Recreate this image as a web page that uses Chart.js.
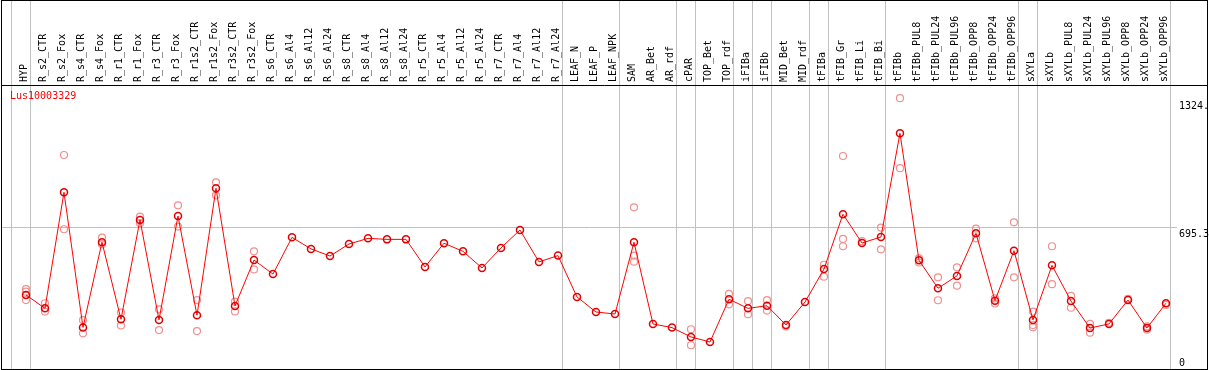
<!DOCTYPE html>
<html>
<head>
<meta charset="utf-8">
<script src="https://cdn.jsdelivr.net/npm/chart.js@4/dist/chart.umd.min.js"></script>
<style>
  body { margin: 0; background: #fff; }
</style>
</head>
<body>
<canvas id="geneChart" width="1209" height="370"></canvas>
<script>
const geneName = 'Lus10003329';

const categories = [
  'HYP', 'R_s2_CTR', 'R_s2_Fox', 'R_s4_CTR', 'R_s4_Fox', 'R_r1_CTR', 'R_r1_Fox',
  'R_r3_CTR', 'R_r3_Fox', 'R_r1s2_CTR', 'R_r1s2_Fox', 'R_r3s2_CTR', 'R_r3s2_Fox',
  'R_s6_CTR', 'R_s6_Al4', 'R_s6_Al12', 'R_s6_Al24', 'R_s8_CTR', 'R_s8_Al4',
  'R_s8_Al12', 'R_s8_Al24', 'R_r5_CTR', 'R_r5_Al4', 'R_r5_Al12', 'R_r5_Al24',
  'R_r7_CTR', 'R_r7_Al4', 'R_r7_Al12', 'R_r7_Al24', 'LEAF_N', 'LEAF_P', 'LEAF_NPK',
  'SAM', 'AR_Bet', 'AR_rdf', 'cPAR', 'TOP_Bet', 'TOP_rdf', 'iFIBa', 'iFIBb',
  'MID_Bet', 'MID_rdf', 'tFIBa', 'tFIB_Gr', 'tFIB_Li', 'tFIB_Bi', 'tFIBb',
  'tFIBb_PUL8', 'tFIBb_PUL24', 'tFIBb_PUL96', 'tFIBb_OPP8', 'tFIBb_OPP24', 'tFIBb_OPP96',
  'sXYLa', 'sXYLb', 'sXYLb_PUL8', 'sXYLb_PUL24', 'sXYLb_PUL96', 'sXYLb_OPP8',
  'sXYLb_OPP24', 'sXYLb_OPP96'
];

// mean expression per sample
const meanValues = [
  365, 299, 871, 205, 625, 245, 735, 242, 754, 265, 891, 311, 537,
  468, 649, 592, 557, 616, 644, 639, 639, 503, 620, 580, 498,
  597, 685, 528, 559, 355, 281, 271,
  625, 222, 204, 158, 133, 344, 299, 312,
  217, 330, 493, 763, 621, 651, 1162,
  536, 398, 459, 669, 337, 583,
  242, 511, 335, 202, 222, 340, 202, 324
];

// individual replicates (only those visible apart from the mean)
const replicateValues = [
  [394, 381, 340], [324, 283], [1055, 689], [241, 176], [648, 615], [278, 215], [751, 718],
  [294, 192], [807, 702], [340, 187], [920, 856], [332, 284], [580, 491],
  [], [], [], [], [], [], [], [], [], [], [], [],
  [], [], [], [], [], [], [],
  [797, 559, 529], [], [], [196, 117], [], [370, 319], [335, 270], [340, 288],
  [210], [], [514, 455], [1050, 641, 605], [630], [697, 590], [1335, 990],
  [545, 525], [452, 339], [501, 411], [692, 644], [348, 323], [723, 452],
  [283, 217, 206], [605, 418], [360, 302], [222, 179], [228], [346], [210, 194], [316]
];

// sample index after which a group separator is drawn
const groupBreaks = [-1, 0, 28, 31, 34, 35, 37, 38, 39, 41, 42, 45, 52, 53, 60];

const yTicks = [0, 695.3, 1324];
const yTickLabels = ['0', '695.3', '1324.'];

const monoFont = { family: "'DejaVu Sans Mono', monospace", size: 10 };

function noPadding(scale) {
  scale.paddingLeft = 0;
  scale.paddingRight = 0;
  scale.paddingTop = 0;
  scale.paddingBottom = 0;
}

const framePlugin = {
  id: 'frame',
  beforeDatasetsDraw(chart) {
    const { ctx, chartArea, scales } = chart;
    const xs = scales.x;
    ctx.save();
    ctx.strokeStyle = '#c0c0c0';
    ctx.lineWidth = 1;
    groupBreaks.forEach((i) => {
      const px = Math.round(xs.getPixelForValue(i + 0.23)) + 0.5;
      ctx.beginPath();
      ctx.moveTo(px, 0);
      ctx.lineTo(px, chartArea.bottom);
      ctx.stroke();
    });
    ctx.restore();
  },
  afterDraw(chart) {
    const { ctx, chartArea } = chart;
    ctx.save();
    ctx.strokeStyle = '#000';
    ctx.lineWidth = 1;
    ctx.strokeRect(1.5, 0.5, 1206, 369);
    ctx.beginPath();
    ctx.moveTo(1.5, Math.round(chartArea.top) + 0.5);
    ctx.lineTo(1207.5, Math.round(chartArea.top) + 0.5);
    ctx.stroke();
    ctx.fillStyle = '#ff0000';
    ctx.font = "10px 'DejaVu Sans Mono', monospace";
    ctx.textBaseline = 'top';
    ctx.fillText(geneName, chartArea.left + 8, chartArea.top + 6);
    ctx.restore();
  }
};

const ctx = document.getElementById('geneChart').getContext('2d');

const geneChart = new Chart(ctx, {
  type: 'line',
  data: {
    datasets: [
      {
        label: 'mean',
        order: 0,
        data: meanValues.map((v, i) => ({ x: i, y: v })),
        borderColor: '#ff0000',
        borderWidth: 1,
        tension: 0,
        pointRadius: 3.5,
        pointBorderWidth: 1.5,
        pointBorderColor: '#e00000',
        pointBackgroundColor: 'rgba(0,0,0,0)',
        clip: false,
      },
      {
        label: 'replicates',
        order: 1,
        showLine: false,
        data: replicateValues.flatMap((reps, i) => reps.map((v) => ({ x: i, y: v }))),
        pointRadius: 3.5,
        pointBorderWidth: 1.2,
        pointBorderColor: '#f09090',
        pointBackgroundColor: 'rgba(0,0,0,0)',
        clip: false,
      },
    ],
  },
  options: {
    responsive: false,
    animation: false,
    devicePixelRatio: 1,
    layout: { autoPadding: false, padding: { left: 2, right: 0, top: 0, bottom: 1 } },
    plugins: {
      legend: { display: false },
      tooltip: { enabled: false },
    },
    scales: {
      x: {
        type: 'linear',
        position: 'top',
        min: -1.263,
        max: 60.58,
        afterFit: (scale) => { scale.height = 85; noPadding(scale); },
        grid: { display: false, drawTicks: false },
        border: { display: false },
        ticks: {
          stepSize: 1,
          autoSkip: false,
          maxTicksLimit: 200,
          includeBounds: false,
          minRotation: 90,
          maxRotation: 90,
          padding: 3,
          labelOffset: 10,
          color: '#000',
          font: monoFont,
          callback: (value) => categories[value] || '',
        },
      },
      y: {
        position: 'right',
        min: 0,
        max: 1400,
        afterFit: (scale) => { scale.width = 32; noPadding(scale); },
        afterBuildTicks: (scale) => { scale.ticks = yTicks.map((v) => ({ value: v })); },
        grid: {
          drawTicks: false,
          color: (c) => (c.tick && c.tick.value === 695.3 ? '#c0c0c0' : 'rgba(0,0,0,0)'),
        },
        border: { display: false },
        ticks: {
          padding: 2,
          color: '#000',
          font: monoFont,
          callback: (value) => {
            const label = yTickLabels[yTicks.indexOf(value)];
            return value === 0 ? [label, ''] : ['', label];
          },
        },
      },
    },
  },
  plugins: [framePlugin],
});
</script>
</body>
</html>
